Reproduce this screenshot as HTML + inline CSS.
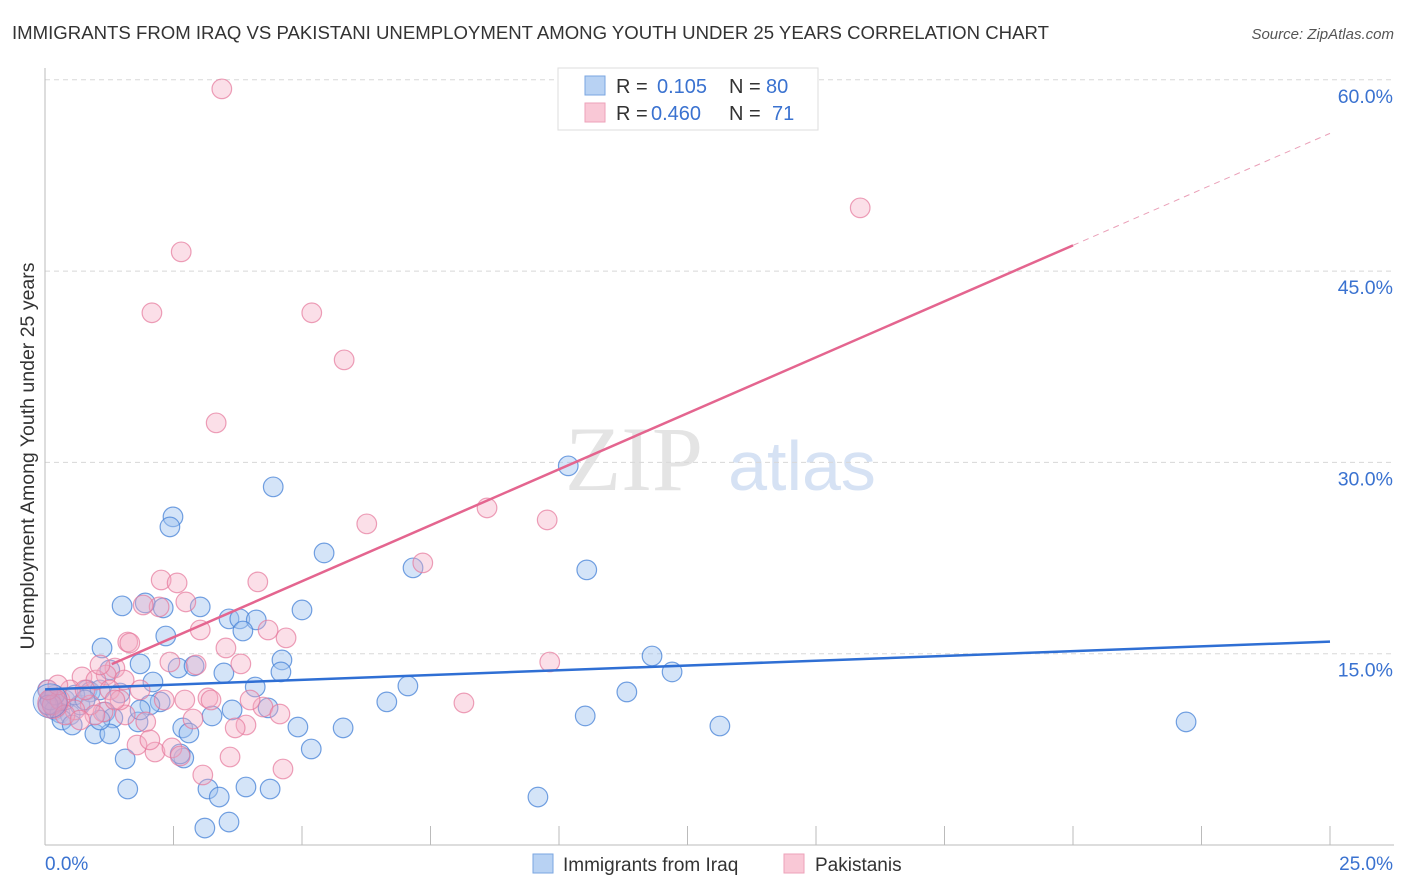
<!DOCTYPE html>
<html><head><meta charset="utf-8"><style>
body{margin:0;background:#fff;font-family:"Liberation Sans",sans-serif;}
#wrap{position:relative;width:1406px;height:892px;overflow:hidden;}
</style></head><body>
<div id="wrap">
<svg id="svg" width="1406" height="892" xmlns="http://www.w3.org/2000/svg">
<text x="12" y="39" font-size="18.6" fill="#333">IMMIGRANTS FROM IRAQ VS PAKISTANI UNEMPLOYMENT AMONG YOUTH UNDER 25 YEARS CORRELATION CHART</text>
<text x="1394" y="39" font-size="15" fill="#555" font-style="italic" text-anchor="end">Source: ZipAtlas.com</text>
<text x="0" y="0" transform="translate(34,456) rotate(-90)" font-size="19.5" fill="#333" text-anchor="middle">Unemployment Among Youth under 25 years</text>
<g>
<text x="634" y="490" font-size="92" fill="#e4e4e4" font-family="Liberation Serif,serif" text-anchor="middle">ZIP</text>
<text x="802" y="490" font-size="70" fill="#d6e2f4" text-anchor="middle">atlas</text>
</g>
<g id="grid"></g>
<g id="axes"></g>
<g id="pts"></g>
<g id="lines"></g>
<g>
<rect x="558" y="68" width="260" height="62" fill="#fff" stroke="#ddd"/>
<rect x="585" y="76" width="20" height="19" fill="#b8d2f3" stroke="#7aa6e0"/>
<rect x="585" y="103" width="20" height="19" fill="#f9c8d6" stroke="#eda2b9"/>
<text x="616" y="93" font-size="20" fill="#333">R = </text><text x="657" y="93" font-size="20" fill="#3a72d0">0.105</text>
<text x="729" y="93" font-size="20" fill="#333">N = </text><text x="766" y="93" font-size="20" fill="#3a72d0">80</text>
<text x="616" y="120" font-size="20" fill="#333">R = </text><text x="651" y="120" font-size="20" fill="#3a72d0">0.460</text>
<text x="729" y="120" font-size="20" fill="#333">N = </text><text x="772" y="120" font-size="20" fill="#3a72d0">71</text>
</g>
<g>
<rect x="533" y="854" width="20" height="19" fill="#b8d2f3" stroke="#7aa6e0"/>
<text x="563" y="871" font-size="19" fill="#333">Immigrants from Iraq</text>
<rect x="784" y="854" width="20" height="19" fill="#f9c8d6" stroke="#eda2b9"/>
<text x="815" y="871" font-size="19" fill="#333">Pakistanis</text>
</g>
</svg>
</div>
<script>
const yTicks=[15,30,45,60];
const yTickLabels=["15.0%","30.0%","45.0%","60.0%"];
const xTicks=[0,2.5,5,7.5,10,12.5,15,17.5,20,22.5,25];
const xTickLabels=["0.0%","25.0%"];
const blueX=[10.18,4.44,2.49,2.43,5.43,7.16,10.54,1.50,1.95,2.30,3.02,5.00,3.58,3.79,4.11,3.85,2.35,1.11,4.61,11.81,1.85,1.26,2.59,2.90,4.59,3.48,12.20,2.10,7.06,4.09,0.82,11.32,1.46,6.65,2.24,2.04,3.64,4.34,1.17,3.25,10.51,1.81,1.32,13.13,22.20,2.68,4.92,5.80,2.80,0.97,1.26,5.18,1.56,2.70,2.63,1.61,3.17,3.39,3.91,4.38,9.59,3.11,3.58,0.19,0.29,0.49,0.10,0.39,0.68,0.88,0.58,0.05,0.33,1.07,0.78,0.53,0.19,1.07,1.85,0.06];
const blueY=[29.73,28.08,25.73,24.94,22.90,21.73,21.57,18.75,18.98,18.59,18.67,18.43,17.73,17.73,17.65,16.78,16.39,15.45,14.51,14.82,14.20,13.73,13.88,14.04,13.57,13.49,13.57,12.78,12.47,12.39,12.16,12.00,11.92,11.22,11.22,10.98,10.59,10.75,10.43,10.12,10.12,9.65,9.96,9.33,9.65,9.18,9.25,9.18,8.78,8.71,8.71,7.53,6.75,6.82,7.14,4.39,4.39,3.76,4.55,4.39,3.76,1.33,1.80,10.59,10.35,10.20,11.37,11.37,10.98,12.00,11.76,12.16,9.80,12.16,11.37,9.41,11.76,9.80,10.59,10.98];
const pinkX=[3.44,15.86,2.65,2.08,5.19,5.82,3.33,8.60,9.77,6.26,7.35,2.26,2.57,4.14,2.74,2.22,1.91,1.61,1.65,3.02,4.69,4.34,3.52,3.81,2.43,1.36,1.19,0.72,0.99,1.54,9.82,2.72,2.32,3.17,3.23,4.24,4.57,8.15,2.88,1.56,1.96,3.91,3.70,1.13,0.88,1.79,2.14,2.47,2.04,2.63,3.60,3.07,4.63,0.29,0.49,0.14,0.58,0.78,1.26,0.39,0.06,0.97,1.46,0.25,1.85,2.94,3.99,1.36,0.68,1.07];
const pinkY=[59.29,49.96,46.51,41.73,41.73,38.04,33.10,26.43,25.49,25.18,22.12,20.78,20.55,20.63,19.06,18.67,18.82,15.92,15.84,16.86,16.24,16.86,15.45,14.20,14.35,13.88,13.33,13.18,12.94,12.94,14.35,11.37,11.37,11.53,11.37,10.82,10.27,11.14,9.88,10.20,9.65,9.41,9.18,10.43,10.98,7.84,7.29,7.61,8.24,6.98,6.90,5.49,5.96,11.37,12.16,10.98,10.59,12.16,12.16,10.20,12.16,10.20,11.37,12.55,12.16,14.12,11.37,11.37,9.80,14.12];
const blueLine=[12.2,15.95];
const pinkLine=[11.9,55.8];
const NS="http://www.w3.org/2000/svg";
const X0=45,X1=1330,Y0=845,YPER=191.3/15;
function sx(v){return X0+(X1-X0)*v/25;}
function sy(v){return Y0-v*YPER;}
function mk(tag,attrs,parent){const e=document.createElementNS(NS,tag);for(const k in attrs)e.setAttribute(k,attrs[k]);parent.appendChild(e);return e;}
const grid=document.getElementById('grid'),axes=document.getElementById('axes'),pts=document.getElementById('pts'),lines=document.getElementById('lines');
yTicks.forEach((t,i)=>{
 const l=mk('line',{x1:45,x2:1394,y1:sy(t),y2:sy(t),stroke:'#d8d8d8','stroke-dasharray':'5,4'},grid);
 
 
 const tx=mk('text',{x:1393,y:sy(t)+23,'font-size':19.5,fill:'#3a72d0','text-anchor':'end'},axes);
 tx.textContent=yTickLabels[i];
 
 
});
const ya=mk('line',{x1:45,x2:45,y1:68,y2:845,stroke:'#bbb'},axes);


const xa=mk('line',{x1:45,x2:1394,y1:845,y2:845,stroke:'#bbb'},axes);


xTicks.forEach(t=>{
 const l=mk('line',{x1:sx(t),x2:sx(t),y1:826,y2:845,stroke:'#bbb'},axes);
 
 
});
const xl0=mk('text',{x:45,y:870,'font-size':19,fill:'#3a72d0'},axes);xl0.textContent=xTickLabels[0];


const xl1=mk('text',{x:1393,y:870,'font-size':19,fill:'#3a72d0','text-anchor':'end'},axes);xl1.textContent=xTickLabels[1];


function dots(xs,ys,fill,stroke,name){xs.forEach((v,i)=>{
 const c=mk('circle',{cx:sx(v),cy:sy(ys[i]),r:9.8,fill:fill,stroke:stroke,'stroke-width':1.2},pts);
 
 
});}
dots(blueX,blueY,'rgba(160,196,240,0.45)','rgba(70,130,215,0.75)','iraq-point');
dots(pinkX,pinkY,'rgba(245,170,195,0.38)','rgba(230,120,155,0.7)','pakistani-point');
const bg1=mk('circle',{cx:sx(0.1),cy:sy(11.3),r:17,fill:'rgba(160,196,240,0.4)',stroke:'rgba(70,130,215,0.7)'},pts);


const bg2=mk('circle',{cx:sx(0.15),cy:sy(11.1),r:15,fill:'rgba(235,120,160,0.4)',stroke:'rgba(230,120,155,0.7)'},pts);


const bl=mk('line',{x1:sx(0),y1:sy(blueLine[0]),x2:sx(25),y2:sy(blueLine[1]),stroke:'#2f6fd4','stroke-width':2.5},lines);


function py(x){return pinkLine[0]+(pinkLine[1]-pinkLine[0])*x/25;}
const pl=mk('line',{x1:sx(1.3),y1:sy(py(1.3)),x2:sx(20),y2:sy(py(20)),stroke:'#e4658f','stroke-width':2.5},lines);


const pd=mk('line',{x1:sx(20),y1:sy(py(20)),x2:sx(25),y2:sy(py(25)),stroke:'#eaa0b8','stroke-width':1,'stroke-dasharray':'6,5'},lines);


</script>
</body></html>
